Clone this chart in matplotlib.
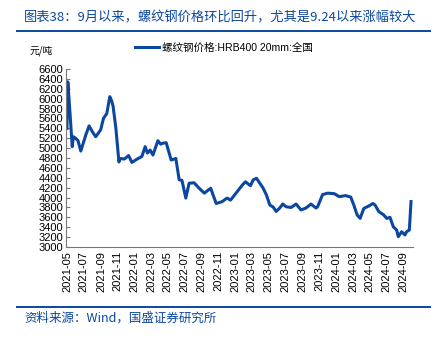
import matplotlib
matplotlib.use('Agg')
import matplotlib.pyplot as plt
import matplotlib.dates as mdates
import pandas as pd

plt.rcParams['font.family'] = ['Liberation Sans', 'Noto Sans CJK SC', 'DejaVu Sans']

BLUE = '#0B47A1'

dates = [
    '2021-05-01', '2021-05-04', '2021-05-12', '2021-05-20', '2021-05-24', '2021-06-01',
    '2021-06-10', '2021-06-20', '2021-07-08', '2021-07-20', '2021-08-01', '2021-08-13',
    '2021-08-22', '2021-08-31', '2021-09-10', '2021-09-22', '2021-10-03', '2021-10-10',
    '2021-10-15', '2021-10-25', '2021-11-05', '2021-11-10', '2021-11-25', '2021-12-10',
    '2021-12-22', '2022-01-10', '2022-01-27', '2022-02-08', '2022-02-16', '2022-02-26',
    '2022-03-08', '2022-03-26', '2022-04-05', '2022-04-13', '2022-04-25', '2022-05-13',
    '2022-05-30', '2022-06-11', '2022-06-21', '2022-07-05', '2022-07-17', '2022-08-04',
    '2022-08-22', '2022-09-10', '2022-10-03', '2022-10-23', '2022-11-14', '2022-12-01',
    '2022-12-14', '2023-01-07', '2023-01-25', '2023-02-06', '2023-02-24', '2023-03-06',
    '2023-03-18', '2023-03-30', '2023-04-11', '2023-04-23', '2023-05-05', '2023-05-17',
    '2023-05-28', '2023-06-10', '2023-06-21', '2023-07-03', '2023-07-21', '2023-08-08',
    '2023-08-26', '2023-09-13', '2023-10-01', '2023-10-19', '2023-10-25', '2023-11-12',
    '2023-11-30', '2023-12-24', '2024-01-11', '2024-02-04', '2024-02-22', '2024-03-04',
    '2024-03-16', '2024-03-27', '2024-04-09', '2024-04-27', '2024-05-12', '2024-05-20',
    '2024-06-02', '2024-06-20', '2024-07-01', '2024-07-13', '2024-07-25', '2024-08-06',
    '2024-08-12', '2024-08-24', '2024-09-05', '2024-09-11', '2024-09-21', '2024-09-27',
]
prices = [
    5400, 6340, 5700, 5030, 5230, 5200,
    5150, 4940, 5265, 5450, 5330, 5230,
    5300, 5370, 5600, 5700, 6040, 5950,
    5840, 5400, 4720, 4790, 4780, 4850,
    4710, 4780, 4830, 5030, 4900, 4960,
    4860, 5150, 5080, 5100, 5110, 4760,
    4790, 4360, 4350, 3990, 4290, 4300,
    4190, 4090, 4190, 3880, 3920, 3990,
    3950, 4120, 4250, 4320, 4240, 4360,
    4390, 4290, 4190, 4050, 3850, 3810,
    3720, 3790, 3870, 3815, 3800, 3870,
    3750, 3790, 3870, 3790, 3815, 4060,
    4090, 4080, 4020, 4040, 4010, 3850,
    3650, 3580, 3780, 3830, 3880, 3850,
    3720, 3650, 3580, 3600, 3410, 3345,
    3210, 3310, 3245, 3310, 3345, 3920,
]
y_ticks = list(range(3000, 6601, 200))
x_ticks = pd.date_range('2021-05-01', '2024-09-01', freq='2MS')

df = pd.DataFrame({'date': pd.to_datetime(dates), 'price': prices})

fig = plt.figure(figsize=(4.41, 3.38), dpi=100)
ax = fig.add_axes([0.150, 0.269, 0.787, 0.527])

ax.plot(df['date'], df['price'], color=BLUE, lw=2.2,
        label='螺纹钢价格:HRB400 20mm:全国')

ax.set_ylim(3000, 6600)
ax.set_yticks(y_ticks)
ax.set_xlim(pd.Timestamp('2021-04-28'), pd.Timestamp('2024-10-05'))
ax.set_xticks(x_ticks)
ax.xaxis.set_major_formatter(mdates.DateFormatter('%Y-%m'))
ax.tick_params(axis='x', rotation=90, labelsize=8, length=0, pad=3)
ax.tick_params(axis='y', labelsize=8, direction='in', length=3, color='#777777', pad=2)

for s in ['top', 'right']:
    ax.spines[s].set_visible(False)
ax.spines['left'].set_color('#777777')
ax.spines['bottom'].set_color('#777777')
ax.spines['left'].set_linewidth(0.8)
ax.spines['bottom'].set_linewidth(0.8)

leg = ax.legend(loc='upper left', bbox_to_anchor=(0.17, 1.2), frameon=False,
                handlelength=2.3, handletextpad=0.25,
                prop={'family': ['Liberation Sans', 'Noto Sans CJK SC'], 'size': 7.6})

fig.text(0.068, 0.843, '元/吨', fontsize=7, family=['Noto Sans CJK SC'])

fig.text(0.055, 0.948, '图表38：9月以来，螺纹钢价格环比回升，尤其是9.24以来涨幅较大',
         fontsize=9.5, color=BLUE, style='italic', va='center',
         family=['Noto Sans CJK SC', 'DejaVu Sans'])
fig.add_artist(plt.Line2D([0.038, 0.976], [0.908, 0.908], color=BLUE, lw=1.4))
fig.add_artist(plt.Line2D([0.038, 0.976], [0.092, 0.092], color=BLUE, lw=1.4))
fig.text(0.055, 0.058, '资料来源：Wind，国盛证券研究所', fontsize=9, color=BLUE,
         style='italic', va='center', family=['Noto Sans CJK SC', 'DejaVu Sans'])

fig.savefig('out.png', dpi=100)
